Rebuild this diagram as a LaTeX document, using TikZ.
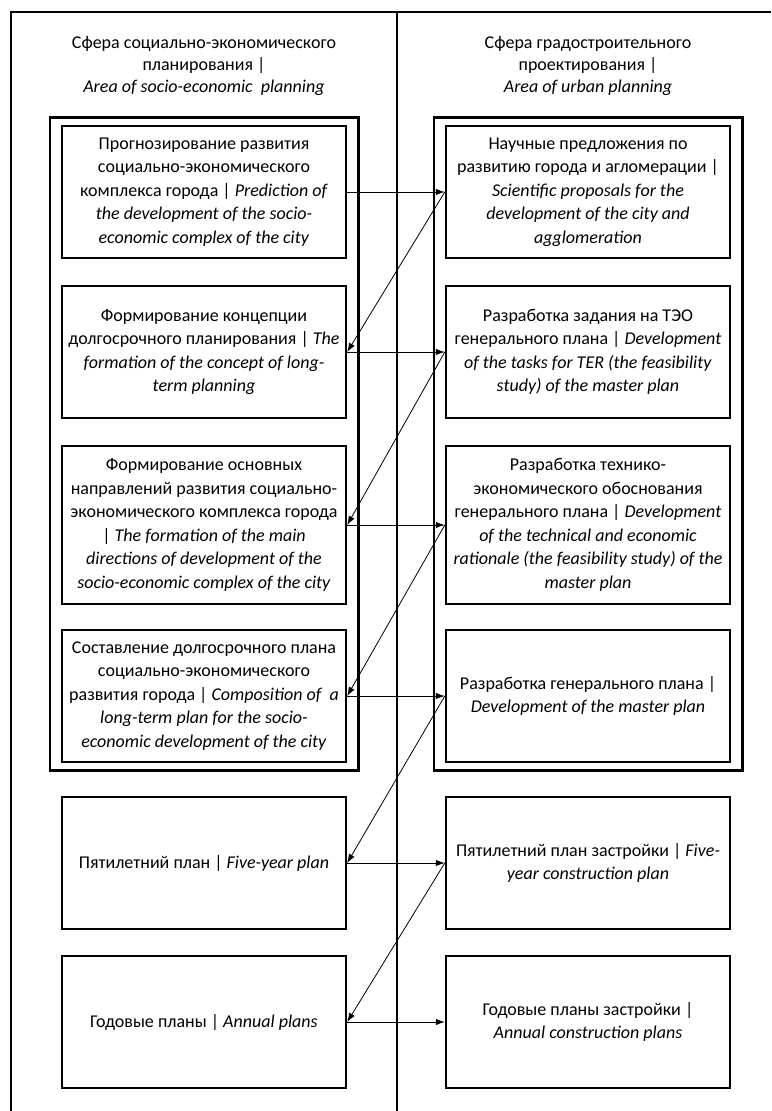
\documentclass[tikz,border=0pt]{standalone}
\usepackage{fontspec}
\setmainfont{Carlito}
\usetikzlibrary{positioning, fit, arrows.meta}

\begin{document}
\begin{tikzpicture}[x=0.5pt, y=-0.5pt, >={Latex[length=4.5pt,width=3.2pt]},
	box/.style={draw, line width=1.2pt, minimum width=142pt, minimum height=66pt,
		align=center, inner sep=1.5pt, font=\fontsize{9}{11.75}\selectfont},
	grp/.style={draw, line width=1.3pt, inner xsep=5.5pt, inner ysep=3.5pt},
	title/.style={align=center, font=\fontsize{9}{11}\selectfont}]

	\useasboundingbox (0,0) rectangle (771,1111);

	% Frame of the two areas
	\draw[line width=1.4pt] (771,12) -- (11,12) -- (11,1111);
	\draw[line width=1.3pt] (397,12) -- (397,1111);

	% Titles
	\node[title] (tl) at (204,66) {Сфера социально-экономического\\ планирования |\\ \textit{Area of socio-economic\ \ planning}};
	\node[title] (tr) at (588,66) {Сфера градостроительного\\ проектирования |\\ \textit{Area of urban planning}};

	% Socio-economic planning
	\node[box] (l1) at (204,192) {Прогнозирование развития\\ социально-экономического\\ комплекса города | \textit{Prediction of}\\ \textit{the development of the socio-}\\ \textit{economic complex of the city}};
	\node[box] (l2) [below=12.8pt of l1] {Формирование концепции\\ долгосрочного планирования | \textit{The}\\ \textit{formation of the concept of long-}\\ \textit{term planning}};
	\node[box, minimum height=79pt] (l3) [below=12.8pt of l2] {Формирование основных\\ направлений развития социально-\\ экономического комплекса города\\ | \textit{The formation of the main}\\ \textit{directions of development of the}\\ \textit{socio-economic complex of the city}};
	\node[box] (l4) [below=11.8pt of l3] {Составление долгосрочного плана\\ социально-экономического\\ развития города | \textit{Composition of\ \ a}\\ \textit{long-term plan for the socio-}\\ \textit{economic development of the city}};
	\node[box] (l5) [below=16.3pt of l4] {Пятилетний план | \textit{Five-year plan}};
	\node[box] (l6) [below=12.3pt of l5] {Годовые планы | \textit{Annual plans}};

	% Urban planning
	\node[box] (r1) [right=48.8pt of l1] {Научные предложения по\\ развитию города и агломерации |\\ \textit{Scientific proposals for the}\\ \textit{development of the city and}\\ \textit{agglomeration}};
	\node[box] (r2) [right=48.8pt of l2] {Разработка задания на ТЭО\\ генерального плана | \textit{Development}\\ \textit{of the tasks for TER (the feasibility}\\ \textit{study) of the master plan}};
	\node[box, minimum height=79pt] (r3) [right=48.8pt of l3] {Разработка технико-\\ экономического обоснования\\ генерального плана | \textit{Development}\\ \textit{of the technical and economic}\\ \textit{rationale (the feasibility study) of the}\\ \textit{master plan}};
	\node[box] (r4) [right=48.8pt of l4] {Разработка генерального плана |\\ \textit{Development of the master plan}};
	\node[box] (r5) [right=48.8pt of l5] {Пятилетний план застройки | \textit{Five-}\\ \textit{year construction plan}};
	\node[box] (r6) [right=48.8pt of l6] {Годовые планы застройки |\\ \textit{Annual construction plans}};

	% Long-term groups
	\node[grp, fit=(l1)(l4)] (gl) {};
	\node[grp, fit=(r1)(r4)] (gr) {};

	% Arrows between the areas
	\draw[->, line width=0.4pt] (l1.east) -- (r1.west);
	\draw[->, line width=0.4pt] (r1.west) -- (l2.east);
	\draw[->, line width=0.4pt] (l2.east) -- (r2.west);
	\draw[->, line width=0.4pt] (r2.west) -- (l3.east);
	\draw[->, line width=0.4pt] (l3.east) -- (r3.west);
	\draw[->, line width=0.4pt] (r3.west) -- (l4.east);
	\draw[->, line width=0.4pt] (l4.east) -- (r4.west);
	\draw[->, line width=0.4pt] (r4.west) -- (l5.east);
	\draw[->, line width=0.4pt] (l5.east) -- (r5.west);
	\draw[->, line width=0.4pt] (r5.west) -- (l6.east);
	\draw[->, line width=0.4pt] (l6.east) -- (r6.west);

\end{tikzpicture}
\end{document}
